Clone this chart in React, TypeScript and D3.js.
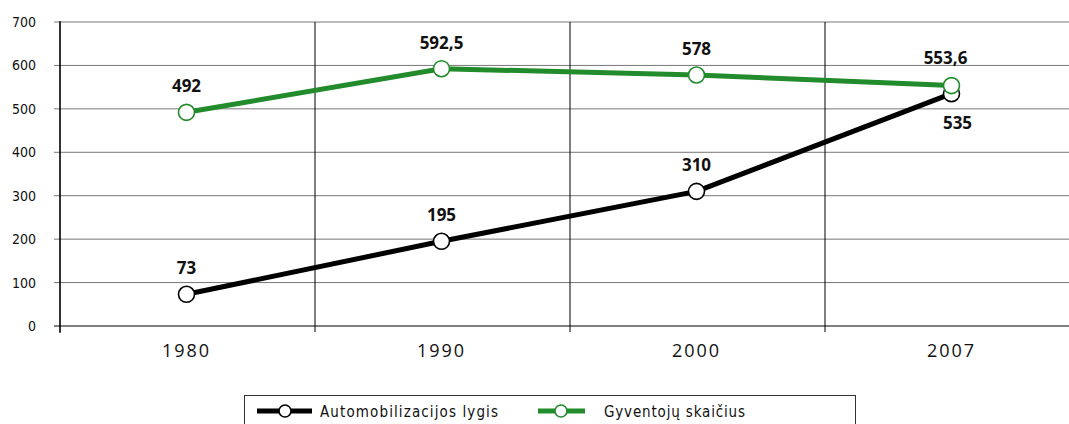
import React from "react";
import * as d3 from "d3";

const categories = ["1980", "1990", "2000", "2007"];
const autoValues = [73, 195, 310, 535];
const popValues = [492, 592.5, 578, 553.6];
const autoLabels = ["73", "195", "310", "535"];
const popLabels = ["492", "592,5", "578", "553,6"];
const yTicks = [0, 100, 200, 300, 400, 500, 600, 700];
const seriesNames = ["Automobilizacijos lygis", "Gyventojų skaičius"];

const W = 1069, H = 424;
const left = 60, top = 22, bottom = 326;
const GREEN = "#228b2b";

export default function App() {
  const x = d3.scaleBand<string>().domain(categories).range([left, left + 1020]);
  const y = d3.scaleLinear().domain([0, 700]).range([bottom, top]);
  const cx = (c: string) => (x(c) as number) + x.bandwidth() / 2 - 1;
  const line = d3.line<number>().x((_, i) => cx(categories[i])).y((d) => y(d));
  const condensed = "'DejaVu Sans Condensed','DejaVu Sans',sans-serif";
  const bold = "'Open Sans','DejaVu Sans',sans-serif";
  const autoOffsets = [-20, -20, -20, 35];
  const popOffsets = [-20, -20, -20, -22];
  return (
    <svg width={W} height={H} style={{ position: "absolute", left: 0, top: 0, background: "#fff" }}>
      {yTicks.map((t) => (
        <g key={t}>
          <line x1={left - 6} x2={W} y1={y(t)} y2={y(t)} stroke={t === 0 ? "#000" : "#777"} strokeWidth={1} />
          <text x={36} y={y(t) + 5} textAnchor="end" fontFamily={condensed} fontStretch="condensed" fontSize={14} fill="#111">{t}</text>
        </g>
      ))}
      {categories.map((c) => (
        <line key={c} x1={x(c) as number} x2={x(c) as number} y1={top} y2={bottom + 6} stroke="#000" strokeWidth={1} />
      ))}
      <line x1={left} x2={left} y1={top - 1} y2={bottom + 7} stroke="#000" strokeWidth={1.2} />
      {categories.map((c) => (
        <text key={c} x={cx(c)} y={bottom + 31} textAnchor="middle" fontFamily={bold} fontSize={18} letterSpacing={2} fill="#111">{c}</text>
      ))}
      <path d={line(popValues) || ""} fill="none" stroke={GREEN} strokeWidth={5} />
      <path d={line(autoValues) || ""} fill="none" stroke="#000" strokeWidth={5} />
      {autoValues.map((v, i) => (
        <circle key={"a" + i} cx={cx(categories[i])} cy={y(v)} r={8} fill="#fff" stroke="#000" strokeWidth={1.6} />
      ))}
      {popValues.map((v, i) => (
        <circle key={"p" + i} cx={cx(categories[i])} cy={y(v)} r={8} fill="#fff" stroke={GREEN} strokeWidth={1.6} />
      ))}
      {autoValues.map((v, i) => (
        <text key={"al" + i} x={cx(categories[i]) + (i === 3 ? 6 : 0)} y={y(v) + autoOffsets[i]} textAnchor="middle" fontFamily={bold} fontWeight="bold" fontSize={17} fill="#111">{autoLabels[i]}</text>
      ))}
      {popValues.map((v, i) => (
        <text key={"pl" + i} x={cx(categories[i]) + (i === 3 ? -6 : 0)} y={y(v) + popOffsets[i]} textAnchor="middle" fontFamily={bold} fontWeight="bold" fontSize={17} fill="#111">{popLabels[i]}</text>
      ))}
      <rect x={244.5} y={395.5} width={611} height={40} fill="none" stroke="#333" strokeWidth={1} />
      <line x1={257} x2={312} y1={411} y2={411} stroke="#000" strokeWidth={5} />
      <circle cx={285} cy={411} r={6} fill="#fff" stroke="#000" strokeWidth={1.6} />
      <text x={320} y={417} fontFamily={condensed} fontStretch="condensed" fontSize={15} textLength={178} lengthAdjust="spacing" fill="#111">{seriesNames[0]}</text>
      <line x1={538} x2={585} y1={411} y2={411} stroke={GREEN} strokeWidth={5} />
      <circle cx={561} cy={411} r={6} fill="#fff" stroke={GREEN} strokeWidth={1.6} />
      <text x={604} y={417} fontFamily={condensed} fontStretch="condensed" fontSize={15} textLength={141} lengthAdjust="spacing" fill="#111">{seriesNames[1]}</text>
    </svg>
  );
}
